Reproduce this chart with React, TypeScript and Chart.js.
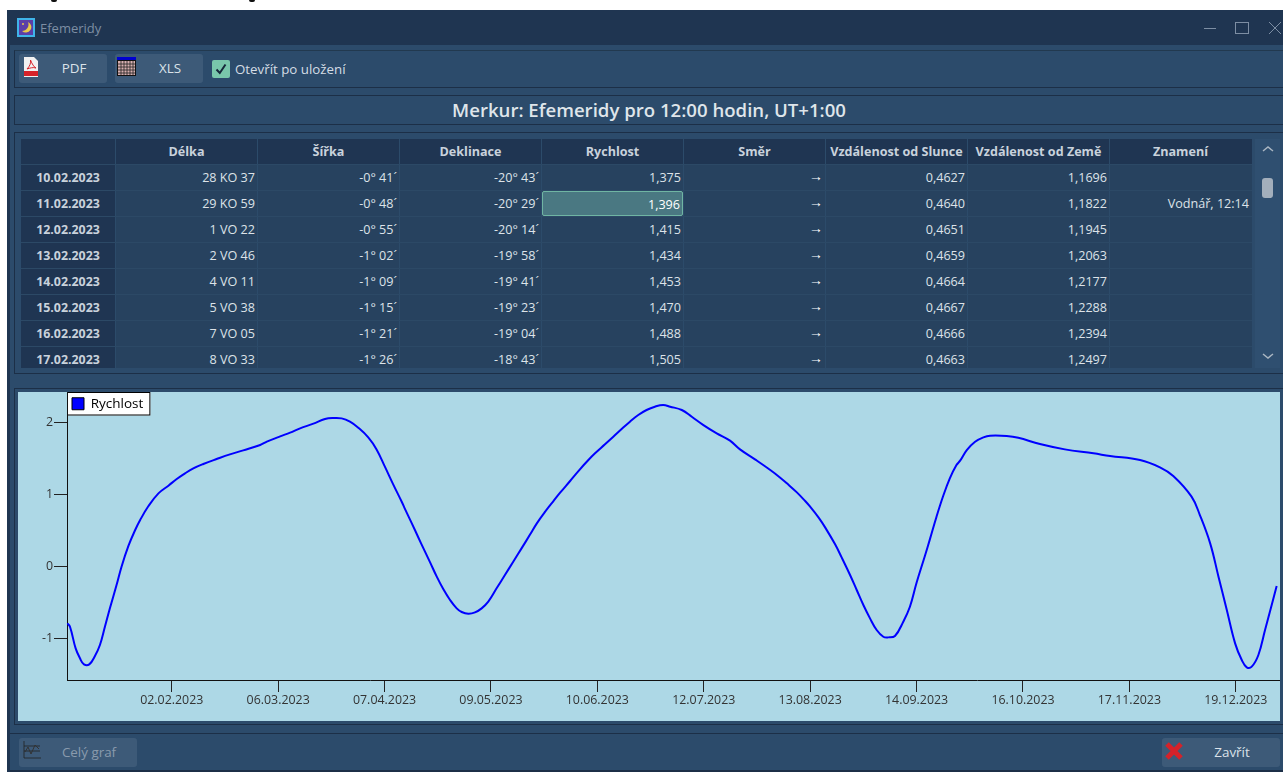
import React, { useEffect, useRef } from "react";
import { Chart, registerables } from "chart.js";

Chart.register(...registerables);

const seriesLabel = "Rychlost";
const dayOfYear = [1.6, 2.4, 4.1, 5.4, 6.6, 8.2, 9.9, 11.4, 12.9, 14.4, 16.4, 17.9, 20, 22, 23.5, 26, 29, 32, 34.5, 37, 39.5, 42.5, 46.5, 50.5, 54.5, 59.6, 61.6, 65.6, 68.6, 71.6, 75.6, 79.1, 81.6, 84.1, 86.6, 89.1,
  92.1, 94.6, 97.1, 99.6, 102.2, 103.2, 105.2, 107.2, 108.7, 110.7, 112.7, 114.7, 116.7, 118.7, 120.2, 122.2, 124.2, 126.2, 128.2, 130.7, 133.2, 135.7, 138.2, 140.8, 142.8, 145.3, 147.8, 149.8, 152.8, 155.3, 158.3, 160.3, 163.3, 165.8, 168.3, 170.8, 173.3, 175.8, 178.3, 180.8,
  182.9, 186.4, 189.4, 192.9, 196.9, 200.9, 203.9, 208.4, 213, 216, 218, 221, 223.5, 225, 227.5, 229.5, 232.5, 234.5, 237, 239, 241, 243, 245, 247, 248.5, 250.5, 253, 255, 257, 259.5, 261, 263, 265, 267, 269,
  270.1, 272.1, 274.6, 277.1, 279.1, 284.1, 287.6, 294.1, 301.6, 310.2, 315.2, 324.2, 330.2, 334.2, 339.7, 342.2, 345.3, 347.8, 350.3, 352.8, 354.8, 356.3, 357.8, 359.8, 361.8, 363.8, 365.3];
const speed = [-0.789, -0.836, -1.137, -1.275, -1.359, -1.359, -1.243, -1.09, -0.836, -0.581, -0.257, -0.002, 0.289, 0.507, 0.646, 0.84, 1.016, 1.123, 1.215, 1.294, 1.363, 1.424, 1.493, 1.558, 1.613, 1.688, 1.734, 1.808, 1.859, 1.919, 1.984, 2.049, 2.063, 2.058, 2.012, 1.928,
  1.794, 1.627, 1.387, 1.141, 0.896, 0.794, 0.6, 0.4, 0.252, 0.058, -0.141, -0.317, -0.465, -0.581, -0.632, -0.655, -0.637, -0.581, -0.488, -0.303, -0.118, 0.067, 0.252, 0.447, 0.6, 0.762, 0.91, 1.025, 1.188, 1.326, 1.479, 1.572, 1.697, 1.803, 1.91, 2.012, 2.104, 2.174, 2.22, 2.243,
  2.22, 2.174, 2.081, 1.965, 1.85, 1.748, 1.627, 1.488, 1.34, 1.234, 1.155, 1.03, 0.91, 0.831, 0.683, 0.544, 0.308, 0.123, -0.118, -0.326, -0.535, -0.72, -0.882, -0.975, -0.984, -0.965, -0.766, -0.558, -0.225, 0.146, 0.377, 0.692, 0.979, 1.225, 1.41,
  1.47, 1.618, 1.734, 1.794, 1.817, 1.813, 1.789, 1.701, 1.627, 1.572, 1.535, 1.479, 1.377, 1.257, 0.97, 0.715, 0.322, -0.141, -0.604, -1.067, -1.299, -1.4, -1.391, -1.229, -0.882, -0.535, -0.271];
const yTicks = [-1, 0, 1, 2];
const xTickDays = [33, 65, 97, 129, 161, 193, 225, 257, 289, 321, 353];
const xTickLabels = ["02.02.2023", "06.03.2023", "07.04.2023", "09.05.2023", "10.06.2023", "12.07.2023", "13.08.2023", "14.09.2023", "16.10.2023", "17.11.2023", "19.12.2023"];

const tableHeaders = ["Délka", "Šířka", "Deklinace", "Rychlost", "Směr", "Vzdálenost od Slunce", "Vzdálenost od Země", "Znamení"];
const rowDates = ["10.02.2023", "11.02.2023", "12.02.2023", "13.02.2023", "14.02.2023", "15.02.2023", "16.02.2023", "17.02.2023"];
const colLongitude = ["28 KO 37", "29 KO 59", "1 VO 22", "2 VO 46", "4 VO 11", "5 VO 38", "7 VO 05", "8 VO 33"];
const colLatitude = ["-0° 41´", "-0° 48´", "-0° 55´", "-1° 02´", "-1° 09´", "-1° 15´", "-1° 21´", "-1° 26´"];
const colDeclination = ["-20° 43´", "-20° 29´", "-20° 14´", "-19° 58´", "-19° 41´", "-19° 23´", "-19° 04´", "-18° 43´"];
const colSpeed = ["1,375", "1,396", "1,415", "1,434", "1,453", "1,470", "1,488", "1,505"];
const colSunDist = ["0,4627", "0,4640", "0,4651", "0,4659", "0,4664", "0,4667", "0,4666", "0,4663"];
const colEarthDist = ["1,1696", "1,1822", "1,1945", "1,2063", "1,2177", "1,2288", "1,2394", "1,2497"];
const colSign = ["", "Vodnář, 12:14", "", "", "", "", "", ""];

const FONT = '"Open Sans", "Noto Sans", sans-serif';
const box = (l: number, t: number, w: number, h: number, extra: React.CSSProperties = {}): React.CSSProperties => ({
  position: "absolute", left: l, top: t, width: w, height: h, boxSizing: "border-box", ...extra,
});

const legendFrame = {
  id: "legendFrame",
  beforeDraw(chart: any) {
    const l = chart.legend;
    if (!l || !l.legendHitBoxes?.length) return;
    const pad = l.options.labels.padding;
    const h = l.legendHitBoxes[0].height + pad * 2;
    const w = l.width - 3;
    const c = chart.ctx;
    c.save();
    c.fillStyle = "#ffffff";
    c.strokeStyle = "#000000";
    c.lineWidth = 1;
    c.fillRect(l.left, l.top, w, h);
    c.strokeRect(l.left + 0.5, l.top + 0.5, w - 1, h - 1);
    c.restore();
  },
};

function SpeedChart() {
  const ref = useRef<HTMLCanvasElement>(null);
  useEffect(() => {
    const chart = new Chart(ref.current!, {
      type: "line",
      data: {
        datasets: [{
          label: seriesLabel,
          data: dayOfYear.map((d, i) => ({ x: d, y: speed[i] })),
          borderColor: "#0000ff",
          backgroundColor: "#0000ff",
          borderWidth: 2,
          pointRadius: 0,
          tension: 0.4,
        }],
      },
      options: {
        animation: false,
        responsive: false,
        layout: { padding: 0 },
        plugins: {
          tooltip: { enabled: false },
          legend: {
            position: "chartArea",
            align: "start",
            labels: {
              boxWidth: 12, boxHeight: 12, padding: 5, color: "#111",
              font: { family: FONT, size: 13.5 },
              generateLabels: (ch: any) => ch.data.datasets.map((ds: any, i: number) => ({
                text: ds.label, fillStyle: ds.backgroundColor, strokeStyle: "#000", lineWidth: 1, hidden: false, datasetIndex: i,
              })),
            },
          },
        },
        scales: {
          x: {
            type: "linear", min: 1.5, max: 366.3,
            afterFit: (s: any) => { s.height = 41; s.paddingLeft = 0; s.paddingRight = 0; },
            afterBuildTicks: (s: any) => { s.ticks = xTickDays.map((v) => ({ value: v })); },
            grid: { drawOnChartArea: false, drawTicks: true, tickLength: 12, tickColor: "#222" },
            border: { display: true, color: "#111", width: 1 },
            ticks: {
              autoSkip: false, maxRotation: 0, padding: 1, color: "#333",
              font: { family: FONT, size: 12.4 },
              callback: (v: any) => xTickLabels[xTickDays.indexOf(v)] ?? "",
            },
          },
          y: {
            type: "linear", min: -1.576, max: 2.424,
            afterFit: (s: any) => { s.width = 49; s.paddingTop = 0; s.paddingBottom = 0; },
            afterBuildTicks: (s: any) => { s.ticks = yTicks.map((v) => ({ value: v })); },
            grid: { drawOnChartArea: false, drawTicks: true, tickLength: 13, tickColor: "#222" },
            border: { display: true, color: "#111", width: 1 },
            ticks: {
              padding: 1, color: "#333",
              font: { family: FONT, size: 12.4 },
              callback: (v: any) => String(v),
            },
          },
        },
      },
      plugins: [legendFrame],
    } as any);
    return () => chart.destroy();
  }, []);
  return <canvas ref={ref} width={1262} height={329} style={{ display: "block" }} />;
}

const colLefts = [116, 258, 400, 542, 684, 826, 968, 1110];
const COL_W = 141;
const rowTop = (i: number) => 165 + i * 26;

function Button({ l, t, w, label, color, children }: any) {
  return (
    <div style={box(l, t, w, 29, { background: "#3d5a78", borderRadius: 3 })}>
      <div style={box(2, 3, 22, 22)}>{children}</div>
      <div style={box(24, 0, w - 26, 29, { textAlign: "center", lineHeight: "29px", fontSize: 13.4, color, whiteSpace: "nowrap" })}>{label}</div>
    </div>
  );
}

export default function App() {
  const columns = [colLongitude, colLatitude, colDeclination, colSpeed, null, colSunDist, colEarthDist, colSign];
  return (
    <div style={box(0, 0, 1283, 772, { background: "#fff", overflow: "hidden", fontFamily: FONT, fontSize: 12 })}>
      {/* cut-off caption fragments above the window */}
      <div style={box(51, 0, 6, 2, { background: "#111", borderRadius: "0 0 3px 3px" })} />
      <div style={box(249, 0, 6, 2, { background: "#111", borderRadius: "0 0 3px 3px" })} />
      {/* window */}
      <div style={box(7, 10, 1276, 762, { background: "#1f3551" })} />
      <div style={box(10, 45, 1273, 725, { background: "#2c4b6b" })} />
      {/* title bar */}
      <div style={box(17, 18, 18, 19, { background: "#5b3fa8", border: "2px solid #3fb4ea" })}>
        <svg width="14" height="15" viewBox="0 0 14 15">
          <path d="M9 2a5.5 5.500 0 1 1-6 9a6.500 6.500 0 0 0 6-9z" fill="#e8c84a" />
          <circle cx="4" cy="4" r="1" fill="#e8c84a" />
        </svg>
      </div>
      <div style={box(40, 18, 100, 20, { color: "#7d8ea3", fontSize: 13, lineHeight: "20px" })}>Efemeridy</div>
      <div style={box(1204, 28, 12, 1, { background: "#7d8ea3" })} />
      <div style={box(1235, 22, 14, 12, { border: "1px solid #7d8ea3" })} />
      <svg style={box(1268, 21, 14, 14)} viewBox="0 0 14 14"><path d="M1 1L13 13M13 1L1 13" stroke="#7d8ea3" strokeWidth="1" /></svg>

      {/* toolbar */}
      <div style={box(14, 50, 1269, 38, { borderTop: "1px solid #22394f", borderBottom: "1px solid #1c2f47", borderLeft: "1px solid #1c2f47" })} />
      <Button l={19} t={54} w={88} label="PDF" color="#dbe2e9">
        <svg width="16" height="20" viewBox="0 0 16 20" style={{ marginLeft: 2 }}>
          <path d="M1 0h10l4 4v16H1z" fill="#f1f1f1" /><rect x="1" y="14" width="14" height="5" fill="#d8232a" />
          <path d="M4 12C7 9 8 6 7.500 3C9 7 11 10 13 11C10 10 7 11 4 12z" fill="none" stroke="#d8232a" />
        </svg>
      </Button>
      <Button l={115} t={54} w={88} label="XLS" color="#dbe2e9">
        <svg width="19" height="19" viewBox="0 0 19 19">
          <rect width="19" height="19" fill="#111" /><rect width="19" height="3" fill="#0000d0" />
          <rect x="1" y="4" width="17" height="14" fill="#d8b0b0" />
          <path d="M1 7h17M1 10h17M1 13h17M1 16h17M4 4v14M7 4v14M10 4v14M13 4v14M16 4v14" stroke="#222" strokeWidth="0.8" />
        </svg>
      </Button>
      <div style={box(212, 60, 18, 18, { background: "#79c7ab", borderRadius: 2 })}>
        <svg width="18" height="18" viewBox="0 0 18 18"><path d="M4.500 9.500L7.800 13L13.500 4.500" fill="none" stroke="#16283a" strokeWidth="2" /></svg>
      </div>
      <div style={box(235, 59, 130, 20, { color: "#d5dde5", fontSize: 13.3, lineHeight: "20px", whiteSpace: "nowrap" })}>Otevřít po uložení</div>

      {/* heading */}
      <div style={box(14, 95, 1269, 30, { borderTop: "1px solid #1c2f47", borderBottom: "1px solid #1c2f47", borderLeft: "1px solid #1c2f47" })} />
      <div style={box(14, 96, 1270, 28, { textAlign: "center", lineHeight: "28px", fontSize: 18.6, fontWeight: 600, color: "#dfe5ea", whiteSpace: "nowrap" })}>
        Merkur: Efemeridy pro 12:00 hodin, UT+1:00
      </div>

      {/* table frame */}
      <div style={box(14, 132, 1269, 242, { borderTop: "1px solid #1c2f47", borderBottom: "1px solid #1c2f47", borderLeft: "1px solid #1c2f47" })} />
      <div style={box(21, 139, 1231, 229, { background: "#27425f", overflow: "hidden" })}>
        <div style={box(0, 0, 94, 229, { background: "#1f3552" })} />
        <div style={box(0, 0, 1231, 25, { background: "#1f3552" })} />
        {colLefts.map((l, c) => (
          <div key={c} style={box(l - 21 - 1, 0, 1, 229, { background: "#2c4b6a" })} />
        ))}
        {rowDates.map((_, r) => (
          <div key={r} style={box(0, rowTop(r) - 139 - 1, 1231, 1, { background: "#2c4966" })} />
        ))}
        {tableHeaders.map((h, c) => (
          <div key={h} style={box(colLefts[c] - 21, 0, COL_W, 25, { textAlign: "center", lineHeight: "25px", fontWeight: 700, fontSize: 12.6, color: "#c9d2dc", whiteSpace: "nowrap" })}>{h}</div>
        ))}
        {rowDates.map((d, r) => (
          <React.Fragment key={d}>
            <div style={box(0, rowTop(r) - 139, 94, 25, { textAlign: "center", lineHeight: "25px", fontWeight: 700, fontSize: 12.4, color: "#c9d2dc" })}>{d}</div>
            {columns.map((col, c) => {
              const selected = c === 3 && r === 1;
              const text = col ? col[r] : "→";
              return (
                <div key={c} style={box(colLefts[c] - 21, rowTop(r) - 139, COL_W, 25, {
                  textAlign: "right", paddingRight: 2, lineHeight: c === 4 ? "22px" : "25px", fontSize: c === 4 ? 14 : 12.6,
                  color: selected || c === 4 ? "#ffffff" : "#dde3e9", whiteSpace: "nowrap",
                  background: selected ? "#4a7882" : "transparent",
                  border: selected ? "1px solid #70b5a3" : "none",
                  borderRadius: selected ? 2 : 0,
                })}>{text}</div>
              );
            })}
          </React.Fragment>
        ))}
      </div>
      {/* scrollbar */}
      <div style={box(1255, 139, 25, 229, { background: "#2f4f70" })} />
      <svg style={box(1261, 145, 14, 8)} viewBox="0 0 14 8"><path d="M2 6L7 2L12 6" fill="none" stroke="#aab6c2" strokeWidth="1.500" /></svg>
      <svg style={box(1261, 352, 14, 8)} viewBox="0 0 14 8"><path d="M2 2L7 6L12 2" fill="none" stroke="#aab6c2" strokeWidth="1.500" /></svg>
      <div style={box(1262, 178, 11, 20, { background: "#a3afbc", borderRadius: 3 })} />

      {/* chart frame */}
      <div style={box(14, 388, 1269, 337, { borderTop: "1px solid #1c2f47", borderBottom: "1px solid #1c2f47", borderLeft: "1px solid #1c2f47" })} />
      <div style={box(18, 392, 1262, 329, { background: "#add8e6" })}>
        <SpeedChart />
      </div>

      {/* bottom */}
      <div style={box(10, 733, 1273, 1, { background: "#1c2f47" })} />
      <Button l={19} t={738} w={118} label="Celý graf" color="#8a9bad">
        <svg width="18" height="18" viewBox="0 0 18 18" style={{ marginLeft: 2 }}>
          <path d="M1 0v17h17M1 5h16M1 10h16" fill="none" stroke="#222" strokeWidth="0.800" />
          <path d="M2 11L5 6L8 13L12 4L16 8" fill="none" stroke="#333" strokeWidth="1" />
        </svg>
      </Button>
      <Button l={1162} t={738} w={118} label="Zavřít" color="#dbe2e9">
        <svg width="20" height="20" viewBox="0 0 20 20"><path d="M3 3L17 17M17 3L3 17" stroke="#d5222a" strokeWidth="5" /></svg>
      </Button>
      <div style={box(10, 770, 1273, 2, { background: "#1c2f47" })} />
    </div>
  );
}
